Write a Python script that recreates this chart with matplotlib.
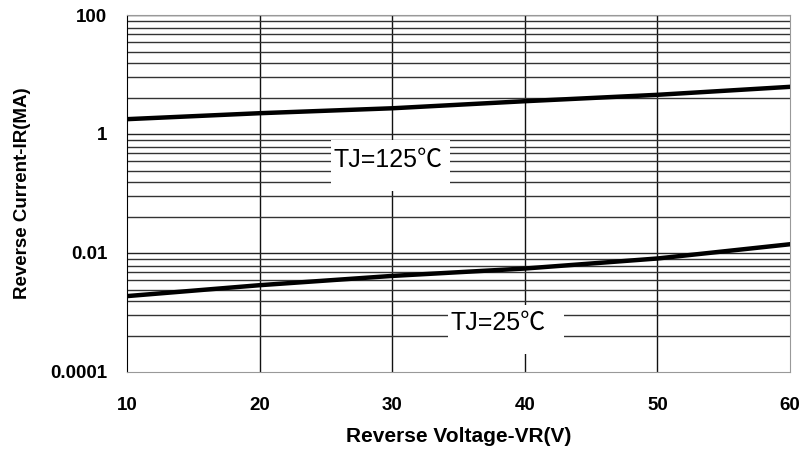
import matplotlib
matplotlib.use("Agg")
import matplotlib.pyplot as plt
from matplotlib.patches import Rectangle

plt.rcParams['font.family'] = ['Liberation Sans', 'Noto Sans CJK SC', 'DejaVu Sans']

# Data
vr = [10, 20, 30, 40, 50, 60]
ir_125 = [1.77, 2.23, 2.70, 3.55, 4.55, 6.2]
ir_25 = [0.00186, 0.00284, 0.00407, 0.00542, 0.0080, 0.0139]

y_major = [0.0001, 0.01, 1, 100]
y_major_labels = ["0.0001", "0.01", "1", "100"]
# minor grid lines inside each two-decade span, as fraction of the span top
grid_mult = [0.78, 0.60, 0.48, 0.35, 0.24, 0.156, 0.091, 0.040]
x_ticks = [10, 20, 30, 40, 50, 60]

fig = plt.figure(figsize=(8.03, 4.57), dpi=100)
ax = fig.add_axes([0.158, 0.187, 0.826, 0.780])

ax.set_yscale('log')
ax.set_xlim(10, 60)
ax.set_ylim(0.0001, 100)

ax.plot(vr, ir_125, color='black', lw=3.2, zorder=3)
ax.plot(vr, ir_25, color='black', lw=3.2, zorder=3)

# grid
ax.set_axisbelow(True)
for xv in x_ticks[1:-1]:
    ax.axvline(xv, color='#111111', lw=1.0, zorder=0.5)
for top in [100, 1, 0.01]:
    ax.axhline(top, color='#222222', lw=1.0, zorder=0.5)
    for m in grid_mult:
        ax.axhline(top * m, color='#333333', lw=1.0, zorder=0.5)

ax.set_xticks(x_ticks)
ax.set_xticklabels([str(v) for v in x_ticks])
ax.set_yticks(y_major)
ax.set_yticklabels(y_major_labels)
ax.yaxis.set_minor_locator(matplotlib.ticker.NullLocator())
ax.tick_params(length=0, labelsize=13.5)
for lab in ax.get_xticklabels() + ax.get_yticklabels():
    lab.set_fontweight('bold')
ax.tick_params(axis='x', pad=18)
ax.tick_params(axis='y', pad=14)

for side in ['top', 'right', 'bottom']:
    ax.spines[side].set_color('#999999')
ax.spines['left'].set_color('black')

ax.set_xlabel("Reverse Voltage-VR(V)", fontsize=15, fontweight='bold', labelpad=10)
ax.set_ylabel("Reverse Current-IR(MA)", fontsize=13.5, fontweight='bold', labelpad=14)

# white label boxes covering the grid
ax.add_patch(Rectangle((0.308, 0.506), 0.179, 0.143, transform=ax.transAxes,
                       facecolor='white', edgecolor='none', zorder=1))
ax.add_patch(Rectangle((0.484, 0.049), 0.175, 0.137, transform=ax.transAxes,
                       facecolor='white', edgecolor='none', zorder=1))
ax.text(0.394, 0.593, "TJ=125℃", transform=ax.transAxes, fontsize=18,
        ha='center', va='center', zorder=4)
ax.text(0.560, 0.136, "TJ=25℃", transform=ax.transAxes, fontsize=18,
        ha='center', va='center', zorder=4)

fig.savefig("out.png", dpi=100)
